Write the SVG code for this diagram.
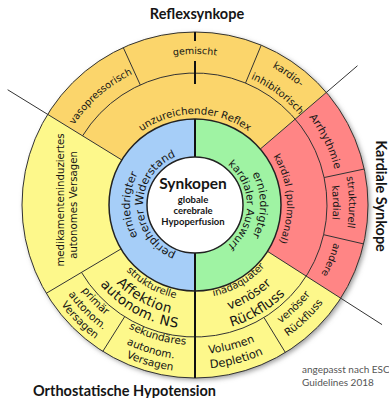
<svg xmlns="http://www.w3.org/2000/svg" width="389" height="398" viewBox="0 0 389 398">
<style>
.lb{font-family:"DejaVu Sans","Verdana",sans-serif;font-size:10px;fill:#151515}
.big{font-size:13.5px}
.ttl{font-family:Lato,"Liberation Sans",sans-serif;font-weight:bold;font-size:14.5px;fill:#151515}
.ctr{font-family:Lato,"Liberation Sans",sans-serif;font-weight:bold;fill:#151515;text-anchor:middle}
.note{font-family:Lato,"Liberation Sans",sans-serif;font-size:10px;fill:#555}
.div{stroke:#333;stroke-width:1;fill:none}
.vl{stroke:#111;stroke-width:2;fill:none}
</style>
<defs>
<filter id="sh" x="-10%" y="-10%" width="125%" height="125%">
<feGaussianBlur stdDeviation="2.5"/>
</filter>
<path id="p_unz" d="M104.35,197.07 A91,91 0 0 1 285.65,197.07"/>
<path id="p_gem" d="M44.57,191.84 A151,151 0 0 1 345.43,191.84"/>
<path id="p_vas" d="M77.69,290.23 A145,145 0 0 1 295.73,100.70"/>
<path id="p_kar1" d="M74.86,102.39 A158,158 0 0 1 331.13,285.19"/>
<path id="p_kar2" d="M91.64,113.56 A138,138 0 0 1 312.66,277.11"/>
<path id="p_arr" d="M143.39,70.56 A144,144 0 0 1 269.16,328.44"/>
<path id="p_pul" d="M196.61,113.01 A92,92 0 0 1 209.39,295.87"/>
<path id="p_str1" d="M205.74,51.38 A154,154 0 0 1 211.10,358.16"/>
<path id="p_str2" d="M204.63,67.34 A138,138 0 0 1 209.43,342.24"/>
<path id="p_and" d="M260.38,76.70 A144,144 0 0 1 152.90,342.71"/>
<path id="p_b1" d="M189.34,269.76 A65,65 0 0 1 189.34,140.24"/>
<path id="p_b2" d="M190.47,256.80 A52,52 0 0 1 190.47,153.20"/>
<path id="p_g1" d="M200.66,140.24 A65,65 0 0 1 200.66,269.76"/>
<path id="p_g2" d="M199.53,153.20 A52,52 0 0 1 199.53,256.80"/>
<path id="p_st1" d="M108.21,166.36 A95,95 0 0 0 273.76,258.12"/>
<path id="p_st2" d="M93.60,159.86 A111,111 0 0 0 287.02,267.07"/>
<path id="p_st3" d="M81.73,154.57 A124,124 0 0 0 297.80,274.34"/>
<path id="p_pr1" d="M87.83,111.83 A142,142 0 0 0 284.36,315.35"/>
<path id="p_pr2" d="M77.14,104.34 A155,155 0 0 0 293.60,324.60"/>
<path id="p_pr3" d="M67.08,97.65 A167,167 0 0 0 302.35,332.92"/>
<path id="p_se1" d="M57.58,178.29 A140,140 0 0 0 325.70,255.18"/>
<path id="p_se2" d="M43.39,172.78 A155,155 0 0 0 338.72,263.06"/>
<path id="p_se3" d="M31.07,173.14 A167,167 0 0 0 350.91,264.85"/>
<path id="p_in1" d="M118.82,258.34 A93,93 0 0 0 279.29,165.70"/>
<path id="p_in2" d="M106.01,269.66 A110,110 0 0 0 293.87,156.78"/>
<path id="p_in3" d="M92.26,279.65 A127,127 0 0 0 309.15,149.32"/>
<path id="p_vo1" d="M54.55,254.74 A149,149 0 0 0 341.96,180.41"/>
<path id="p_vo2" d="M40.89,261.09 A164,164 0 0 0 356.51,176.53"/>
<path id="p_ve1" d="M99.21,315.19 A146,146 0 0 0 308.46,113.12"/>
<path id="p_ve2" d="M89.37,326.51 A161,161 0 0 0 320.11,103.68"/>
</defs>
<rect width="389" height="398" fill="#fff"/>
<circle cx="197" cy="207" r="173" fill="#9a9a9a" filter="url(#sh)"/>

<g id="orthostatic">
<circle cx="195" cy="205" r="173" fill="#FDF88B"/>
<text class="lb" transform="translate(64,200) rotate(-90)" text-anchor="middle" style="font-size:10.2px">medikamenteninduziertes</text>
<text class="lb" transform="translate(77,205) rotate(-90)" text-anchor="middle" style="font-size:10.2px">autonomes Versagen</text>
<text class="lb" style="font-size:10px"><textPath href="#p_st1" startOffset="50%" text-anchor="middle">strukturelle</textPath></text>
<text class="lb big" letter-spacing="0.3"><textPath href="#p_st2" startOffset="50%" text-anchor="middle">Affektion</textPath></text>
<text class="lb big" letter-spacing="0.3"><textPath href="#p_st3" startOffset="50%" text-anchor="middle">autonom. NS</textPath></text>
<text class="lb" style="font-size:10.5px"><textPath href="#p_pr1" startOffset="50%" text-anchor="middle">primär</textPath></text>
<text class="lb" style="font-size:10.5px"><textPath href="#p_pr2" startOffset="50%" text-anchor="middle">autonom.</textPath></text>
<text class="lb" style="font-size:10.5px"><textPath href="#p_pr3" startOffset="50%" text-anchor="middle">Versagen</textPath></text>
<text class="lb" style="font-size:10.5px"><textPath href="#p_se1" startOffset="50%" text-anchor="middle">sekundäres</textPath></text>
<text class="lb" style="font-size:10.5px"><textPath href="#p_se2" startOffset="50%" text-anchor="middle">autonom.</textPath></text>
<text class="lb" style="font-size:10.5px"><textPath href="#p_se3" startOffset="50%" text-anchor="middle">Versagen</textPath></text>
<text class="lb" style="font-size:10px"><textPath href="#p_in1" startOffset="50%" text-anchor="middle">inadäquater</textPath></text>
<text class="lb" style="font-size:12.5px"><textPath href="#p_in2" startOffset="50%" text-anchor="middle">venöser</textPath></text>
<text class="lb big"><textPath href="#p_in3" startOffset="50%" text-anchor="middle">Rückfluss</textPath></text>
<text class="lb" style="font-size:11px"><textPath href="#p_vo1" startOffset="50%" text-anchor="middle">Volumen</textPath></text>
<text class="lb" style="font-size:11.5px"><textPath href="#p_vo2" startOffset="50%" text-anchor="middle">Depletion</textPath></text>
<text class="lb" style="font-size:10.5px"><textPath href="#p_ve1" startOffset="50%" text-anchor="middle">venöser</textPath></text>
<text class="lb" style="font-size:10.5px"><textPath href="#p_ve2" startOffset="50%" text-anchor="middle">Rückfluss</textPath></text>
</g>

<g id="reflex">
<path d="M195,205 L47.66,114.35 A173,173 0 0 1 326.36,92.41 Z" fill="#FBD56B"/>
<text class="lb" style="font-size:10.2px"><textPath href="#p_unz" startOffset="50%" text-anchor="middle">unzureichender Reflex</textPath></text>
<text class="lb" style="font-size:9.5px"><textPath href="#p_gem" startOffset="50%" text-anchor="middle">gemischt</textPath></text>
<text class="lb" style="font-size:9.8px"><textPath href="#p_vas" startOffset="50%" text-anchor="middle">vasopressorisch</textPath></text>
<text class="lb"><textPath href="#p_kar1" startOffset="50%" text-anchor="middle">kardio-</textPath></text>
<text class="lb"><textPath href="#p_kar2" startOffset="50%" text-anchor="middle">inhibitorisch</textPath></text>
</g>

<g id="kardial">
<path d="M195,205 L326.36,92.41 A173,173 0 0 1 340.75,298.21 Z" fill="#FF8585"/>
<text class="lb" style="font-size:10.5px"><textPath href="#p_arr" startOffset="50%" text-anchor="middle">Arrhythmie</textPath></text>
<text class="lb" style="font-size:9.8px"><textPath href="#p_pul" startOffset="50%" text-anchor="middle">kardial (pulmonal)</textPath></text>
<text class="lb"><textPath href="#p_str1" startOffset="50%" text-anchor="middle">strukturell</textPath></text>
<text class="lb"><textPath href="#p_str2" startOffset="50%" text-anchor="middle">kardial</textPath></text>
<text class="lb" style="font-size:9.8px"><textPath href="#p_and" startOffset="50%" text-anchor="middle">andere</textPath></text>
</g>

<g id="widerstand">
<path d="M195,119 A86,86 0 0 0 195,291 Z" fill="#A6CEF8"/>
<text class="lb" style="font-size:11px"><textPath href="#p_b1" startOffset="50%" text-anchor="middle">erniedrigter</textPath></text>
<text class="lb" style="font-size:11px"><textPath href="#p_b2" startOffset="50%" text-anchor="middle">peripherer Widerstand</textPath></text>
</g>

<g id="auswurf">
<path d="M195,119 A86,86 0 0 1 195,291 Z" fill="#9FF3A3"/>
<text class="lb" style="font-size:11px"><textPath href="#p_g1" startOffset="50%" text-anchor="middle">erniedrigter</textPath></text>
<text class="lb" style="font-size:10.5px"><textPath href="#p_g2" startOffset="50%" text-anchor="middle">kardialer Auswurf</textPath></text>
</g>

<g id="connectors">
<circle cx="195" cy="205" r="173" class="div"/>
<path class="div" d="M81.49,272.39 A132,132 0 1 0 82.58,135.83"/>
<path class="div" d="M121.75,159.94 L7.63,89.72"/>
<path class="div" d="M260.30,149.03 L357.49,65.73"/>
<path class="div" d="M267.46,251.34 L382.04,324.61"/>
<path class="div" d="M121.05,248.90 L46.24,293.32"/>
<path class="div" d="M140.26,84.88 L123.26,47.57"/>
<path class="div" d="M245.52,83.05 L261.21,45.17"/>
<path class="div" d="M324.11,177.56 L364.21,169.03"/>
<path class="div" d="M323.62,234.70 L363.57,243.92"/>
<path class="div" d="M124.66,316.70 L102.81,351.39"/>
<path class="div" d="M263.97,317.54 L285.39,352.50"/>
<path class="vl" d="M195,32 V41 M195,61 V84 M195,119 V160 M195,250 V378"/>
<circle cx="195" cy="205" r="86" fill="none" stroke="#222" stroke-width="1.5"/>
</g>

<g id="center">
<circle cx="195" cy="205" r="48" fill="#fff" stroke="#222" stroke-width="1.5"/>
<text class="ctr" x="193" y="189" style="font-size:15.5px">Synkopen</text>
<text class="ctr" x="193" y="203" style="font-size:9.5px">globale</text>
<text class="ctr" x="193" y="214" style="font-size:9.5px">cerebrale</text>
<text class="ctr" x="193" y="225" style="font-size:9.5px">Hypoperfusion</text>
</g>

<g id="titles">
<text class="ttl" x="197" y="19" text-anchor="middle">Reflexsynkope</text>
<text class="ttl" transform="translate(375.5,196) rotate(90)" text-anchor="middle">Kardiale Synkope</text>
<text class="ttl" x="33" y="396">Orthostatische Hypotension</text>
<text class="note" x="302" y="373">angepasst nach ESC</text>
<text class="note" x="302" y="386">Guidelines 2018</text>
</g>
</svg>
